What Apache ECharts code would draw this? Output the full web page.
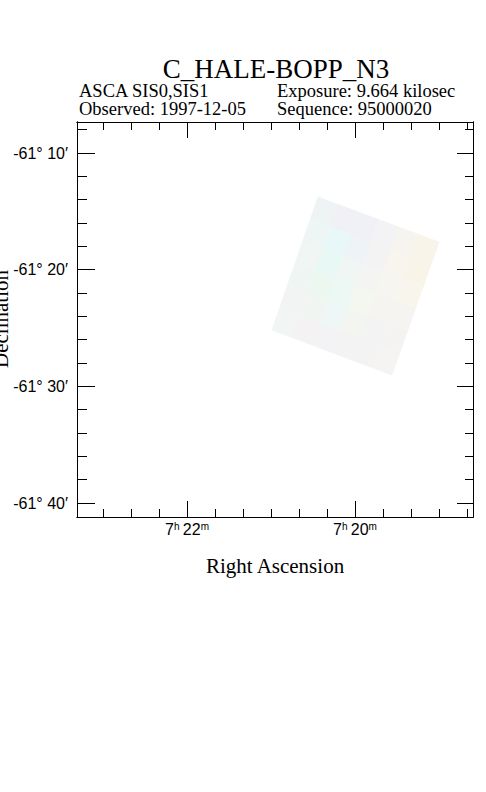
<!DOCTYPE html>
<html><head><meta charset="utf-8">
<script src="https://cdn.jsdelivr.net/npm/echarts@6/dist/echarts.min.js"></script>
<style>html,body{margin:0;padding:0;background:#fff;}#c{width:486px;height:792px;}</style>
</head><body><div id="c"></div>
<script>
// ---- texts ----
const titleText = 'C_HALE-BOPP_N3';
const infoLeft = ['ASCA SIS0,SIS1', 'Observed: 1997-12-05'];
const infoRight = ['Exposure: 9.664 kilosec', 'Sequence: 95000020'];
const xName = 'Right Ascension';
const yName = 'Declination';

// ---- axes (RA in minutes past 7h, Dec in arcmin relative to -61°) ----
const raRange = [18.595, 23.31];
const decRange = [-41.2, -7.34];
const raMajor = [20, 22];
const raMinor = [18 + 2/3, 19, 19 + 1/3, 19 + 2/3, 20 + 1/3, 20 + 2/3, 21, 21 + 1/3, 21 + 2/3, 22 + 1/3, 22 + 2/3, 23];
const decMajor = [-40, -30, -20, -10];
const decMinor = [-38, -36, -34, -32, -28, -26, -24, -22, -18, -16, -14, -12, -8];

// ---- image field corners (top, right, bottom, left) ----
const fieldRA = [20.440, 19.000, 19.560, 20.988];
const fieldDec = [-13.77, -17.63, -29.03, -25.17];

// ---- image cell colours (rows from top-right edge toward left corner, cols toward right corner) ----
const cellColors = [
  ['#eef4f4', '#f1f0f6', '#f0f1f6', '#f3f2f4', '#f6f4ef', '#f8f4ea'],
  ['#eef5f5', '#e8f7f8', '#eef3f7', '#f3f3f3', '#f7f5ee', '#f9f4e8'],
  ['#eff6f3', '#e7f8f5', '#eff6f3', '#f4f4f2', '#f6f5ef', '#f8f5ec'],
  ['#eff5f2', '#ecf8ef', '#ecf8f4', '#f4f7ee', '#f5f4f1', '#f6f4f0'],
  ['#f1f4f2', '#f1f5f1', '#eef7f5', '#f3f6f0', '#f4f3f3', '#f5f3f2'],
  ['#f1f5f3', '#f4f2f3', '#f3f2f4', '#f3f3f3', '#f4f3f4', '#f5f4f3']
];

const cells = [];
for (let i = 0; i < cellColors.length; i++)
  for (let j = 0; j < cellColors[i].length; j++) cells.push([i, j]);

function corner(u, v) {
  const w = [(1 - u) * (1 - v), u * (1 - v), u * v, (1 - u) * v];
  let ra = 0, dec = 0;
  for (let k = 0; k < 4; k++) { ra += w[k] * fieldRA[k]; dec += w[k] * fieldDec[k]; }
  return [ra, dec];
}

const sans = 'Liberation Sans';
const serif = 'Liberation Serif';
const lineStyle = { color: '#000', width: 1 };

function xAxisDef(pos, values, len, labels) {
  return {
    type: 'value', position: pos, min: raRange[0], max: raRange[1], inverse: true,
    axisLine: { show: true, onZero: false, lineStyle },
    splitLine: { show: false },
    axisTick: { show: true, inside: true, length: len, customValues: values, lineStyle },
    axisLabel: labels ? {
      show: true, customValues: values, margin: 4, color: '#000',
      formatter: v => '{n|7}{s|h} {n|' + Math.round(v) + '}{s|m}',
      rich: {
        n: { fontSize: 16, fontFamily: sans, color: '#000', lineHeight: 16 },
        s: { fontSize: 10, fontFamily: sans, color: '#000', verticalAlign: 'top', lineHeight: 10 }
      }
    } : { show: false }
  };
}
function yAxisDef(pos, values, len, labels) {
  return {
    type: 'value', position: pos, min: decRange[0], max: decRange[1],
    axisLine: { show: true, onZero: false, lineStyle },
    splitLine: { show: false },
    axisTick: { show: true, inside: true, length: len, customValues: values, lineStyle },
    axisLabel: labels ? {
      show: true, customValues: values, margin: 9, color: '#000',
      fontSize: 16, fontFamily: sans,
      formatter: v => '-61° ' + Math.round(-v) + '′'
    } : { show: false }
  };
}

function txt(x, y, s, size, align, extra) {
  return Object.assign({ type: 'text', x: x, y: y, style: { text: s, font: size + 'px "' + serif + '"', fill: '#000', align: align, verticalAlign: 'middle', lineHeight: Math.min(size, 17) } }, extra || {});
}

const chart = echarts.init(document.getElementById('c'), null, { renderer: 'svg' });
chart.setOption({
  animation: false,
  backgroundColor: '#fff',
  grid: { left: 77, right: 13, top: 122, bottom: 275, containLabel: false, outerBoundsMode: 'none' },
  xAxis: [
    xAxisDef('bottom', raMajor, 16, true),
    xAxisDef('bottom', raMinor, 8, false),
    xAxisDef('top', raMajor, 16, false),
    xAxisDef('top', raMinor, 8, false)
  ],
  yAxis: [
    yAxisDef('left', decMajor, 18, true),
    yAxisDef('left', decMinor, 10, false),
    yAxisDef('right', decMajor, 16, false),
    yAxisDef('right', decMinor, 8, false)
  ],
  graphic: [
    { type: 'text', x: 276, y: 69, style: { text: titleText, font: '27px "' + serif + '"', fill: '#000', align: 'center', verticalAlign: 'middle' } },
    txt(79, 91, infoLeft[0], 18.5, 'left'),
    txt(79, 109, infoLeft[1], 18.5, 'left'),
    txt(277, 91, infoRight[0], 18.5, 'left'),
    txt(277, 109, infoRight[1], 18.5, 'left'),
    { type: 'text', x: 275, y: 566, style: { text: xName, font: '21px "' + serif + '"', fill: '#000', align: 'center', verticalAlign: 'middle' } },
    { type: 'text', x: 0.5, y: 319, rotation: Math.PI / 2, style: { text: yName, font: '21px "' + serif + '"', fill: '#000', align: 'center', verticalAlign: 'middle' } }
  ],
  series: [{
    type: 'custom',
    coordinateSystem: 'cartesian2d',
    xAxisIndex: 0, yAxisIndex: 0,
    data: cells,
    silent: true,
    renderItem: function (params, api) {
      const i = api.value(0), j = api.value(1);
      const n = cellColors.length, m = cellColors[0].length;
      const uv = [[j / m, i / n], [(j + 1) / m, i / n], [(j + 1) / m, (i + 1) / n], [j / m, (i + 1) / n]];
      const pts = uv.map(p => api.coord(corner(p[0], p[1])));
      const col = cellColors[i][j];
      return { type: 'polygon', shape: { points: pts }, style: { fill: col, stroke: col, lineWidth: 0.8 } };
    }
  }]
});
</script>
</body></html>
